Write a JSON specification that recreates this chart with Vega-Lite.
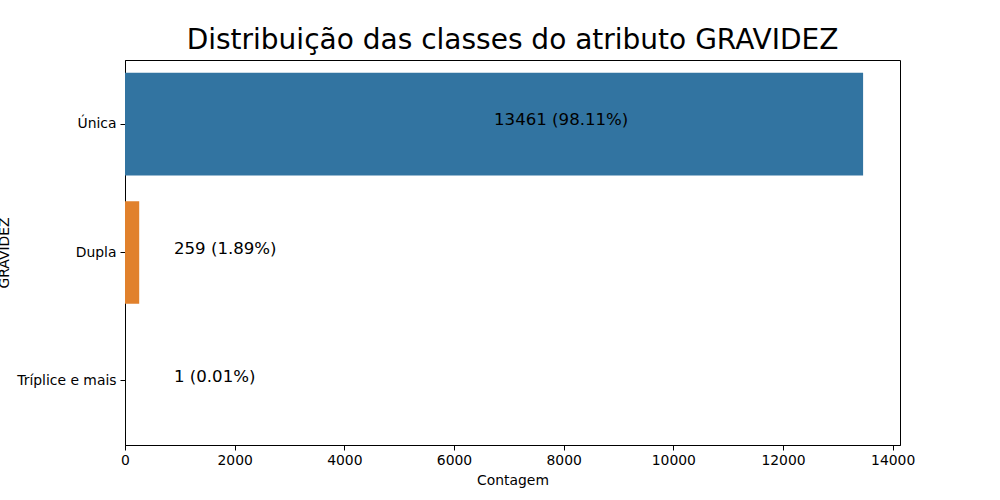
{
  "$schema": "https://vega.github.io/schema/vega-lite/v6.json",
  "autosize": "none",
  "width": 775,
  "height": 385,
  "padding": {"left": 125, "top": 60, "right": 100, "bottom": 55},
  "background": "white",
  "title": {
    "text": "Distribuição das classes do atributo GRAVIDEZ",
    "font": "DejaVu Sans",
    "fontSize": 28,
    "fontWeight": "normal",
    "color": "black",
    "offset": 5
  },
  "config": {
    "view": {"stroke": "black", "strokeWidth": 1},
    "axis": {
      "labelFont": "DejaVu Sans",
      "titleFont": "DejaVu Sans",
      "labelFontSize": 13.9,
      "titleFontSize": 13.9,
      "titleFontWeight": "normal",
      "labelColor": "black",
      "titleColor": "black",
      "domainColor": "black",
      "tickColor": "black",
      "tickSize": 5,
      "grid": false,
      "labelFlush": false
    }
  },
  "data": {
    "values": [
      {"GRAVIDEZ": "Única", "count": 13461, "label": "13461 (98.11%)"},
      {"GRAVIDEZ": "Dupla", "count": 259, "label": "259 (1.89%)"},
      {"GRAVIDEZ": "Tríplice e mais", "count": 1, "label": "1 (0.01%)"}
    ]
  },
  "encoding": {
    "y": {
      "field": "GRAVIDEZ",
      "type": "nominal",
      "sort": ["Única", "Dupla", "Tríplice e mais"],
      "scale": {"paddingInner": 0.2, "paddingOuter": 0.1},
      "axis": {
        "title": "GRAVIDEZ",
        "labelPadding": 4,
        "titleX": -121,
        "titleY": 192.5,
        "titleAngle": -90,
        "titleAlign": "center",
        "titleBaseline": "middle"
      }
    }
  },
  "layer": [
    {
      "mark": {"type": "bar"},
      "encoding": {
        "x": {
          "field": "count",
          "type": "quantitative",
          "scale": {"domain": [0, 14134], "nice": false},
          "axis": {"title": "Contagem", "values": [0, 2000, 4000, 6000, 8000, 10000, 12000, 14000], "format": "d", "labelPadding": 3, "titlePadding": 7}
        },
        "color": {
          "field": "GRAVIDEZ",
          "type": "nominal",
          "sort": ["Única", "Dupla", "Tríplice e mais"],
          "scale": {"range": ["#3274a1", "#e1812c", "#3a923a"]},
          "legend": null
        }
      }
    },
    {
      "transform": [
        {"calculate": "datum.count > 5000 ? datum.count / 2 : 893", "as": "lx"}
      ],
      "mark": {"type": "text", "align": "left", "baseline": "middle", "dy": -4, "font": "DejaVu Sans", "fontSize": 16.6, "color": "black"},
      "encoding": {
        "x": {"field": "lx", "type": "quantitative"},
        "text": {"field": "label"}
      }
    }
  ]
}
